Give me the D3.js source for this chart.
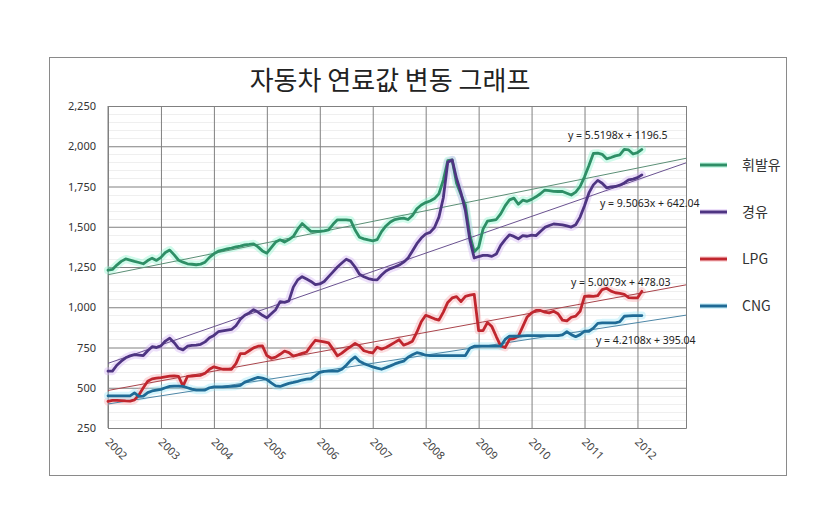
<!DOCTYPE html>
<html><head><meta charset="utf-8">
<script src="https://cdn.jsdelivr.net/npm/d3@7"></script>
<style>body{margin:0;background:#fff}svg{display:block}</style>
</head><body><svg id="c" width="840" height="525"></svg>
<script>
const title = "자동차 연료값 변동 그래프";
const yearLabels = ["2002","2003","2004","2005","2006","2007","2008","2009","2010","2011","2012"];
const yTicks = [250,500,750,1000,1250,1500,1750,2000,2250];
const seriesNames = ["휘발유","경유","LPG","CNG"];
const gasoline = [1230,1235,1262,1285,1300,1293,1285,1278,1270,1290,1305,1291,1310,1340,1355,1325,1292,1280,1270,1267,1264,1268,1280,1310,1332,1348,1355,1362,1368,1375,1380,1388,1390,1394,1375,1350,1336,1370,1405,1419,1405,1420,1440,1485,1520,1495,1471,1471,1471,1475,1481,1515,1543,1543,1543,1540,1480,1435,1425,1418,1412,1420,1470,1505,1530,1545,1550,1554,1545,1570,1612,1635,1650,1660,1675,1705,1790,1910,1915,1770,1700,1635,1450,1345,1372,1485,1535,1540,1545,1580,1630,1667,1678,1640,1665,1658,1670,1686,1705,1728,1725,1720,1719,1719,1708,1697,1715,1750,1810,1880,1955,1957,1950,1922,1930,1940,1946,1980,1977,1952,1960,1980];
const diesel = [603,603,640,665,686,698,706,703,700,730,755,750,760,790,808,780,745,735,758,763,765,770,785,810,825,848,853,858,862,885,925,950,965,985,970,950,934,960,985,1035,1030,1040,1125,1170,1190,1175,1160,1140,1145,1160,1190,1220,1250,1275,1298,1285,1250,1205,1190,1178,1172,1170,1200,1225,1240,1250,1262,1280,1305,1350,1395,1430,1455,1465,1495,1560,1680,1900,1915,1800,1710,1600,1420,1306,1315,1322,1322,1316,1330,1385,1420,1450,1440,1425,1445,1441,1448,1445,1470,1496,1508,1517,1515,1512,1505,1498,1512,1560,1630,1710,1760,1788,1770,1742,1748,1750,1758,1772,1791,1796,1805,1822];
const lpg = [415,422,422,420,418,417,425,455,500,540,555,560,563,568,572,574,570,510,570,573,575,577,590,615,630,622,615,615,615,650,712,712,730,748,758,760,700,683,690,708,728,718,697,705,714,722,760,795,790,785,779,740,698,715,737,755,775,760,730,722,716,752,740,750,766,782,798,765,775,789,845,910,950,940,928,920,970,1030,1058,1066,1035,1068,1075,1080,855,855,905,880,818,760,750,800,805,820,880,940,965,980,980,970,965,975,960,920,915,938,945,975,1068,1070,1068,1072,1110,1118,1100,1090,1086,1080,1060,1058,1058,1099];
const cng = [450,450,450,450,450,450,468,446,448,470,480,485,490,500,508,510,510,508,500,492,485,485,486,500,506,506,506,507,508,510,515,535,545,555,565,560,551,530,512,508,518,527,533,540,548,553,556,575,595,602,603,603,603,615,640,670,692,665,650,640,630,622,615,625,636,648,658,665,690,705,718,712,702,700,700,700,700,700,700,700,700,700,745,758,758,758,758,758,758,758,800,820,820,820,822,824,824,824,824,824,824,824,824,828,848,830,817,830,851,851,870,900,903,903,903,903,910,944,946,948,948,948];
const trendSlopes = [5.5198, 9.5063, 5.0079, 4.2108];
const trendIntercepts = [1196.5, 642.04, 478.03, 395.04];
const trendLabels = ["y = 5.5198x + 1196.5","y = 9.5063x + 642.04","y = 5.0079x + 478.03","y = 4.2108x + 395.04"];
const categoryCount = 132;

const allSeries = [gasoline, diesel, lpg, cng];
const colors = ["#2e8f66","#4e3482","#c0262e","#1f6b96"];
const glowColors = ["#8af5cc","#d2b2f2","#f7aab0","#9ae6f7"];
const trendColors = ["#5b8f76","#6a5290","#a9444b","#4d86a6"];
const labelPos = [[568,139],[600,207],[571,286],[596,344]];

const svg = d3.select("#c");
const M = {l:108, r:686, t:106, b:428};
const x = d3.scaleLinear().domain([1, categoryCount]).range([M.l, M.r]);
const y = d3.scaleLinear().domain([250, 2250]).range([M.b, M.t]);

svg.append("rect").attr("x",49.5).attr("y",57.5).attr("width",737).attr("height",418)
  .attr("fill","#fff").attr("stroke","#8a8a8a").attr("stroke-width",1);

svg.append("text").attr("x",390).attr("y",90).attr("text-anchor","middle")
  .attr("font-family","'Noto Sans CJK KR','Noto Sans',sans-serif").attr("font-size",26)
  .attr("fill","#222").text(title);

// minor grid
const minor = d3.range(300, 2250, 50).filter(v => v % 250 !== 0);
svg.append("g").selectAll("line").data(minor).join("line")
  .attr("x1",M.l).attr("x2",M.r).attr("y1",d=>Math.round(y(d))+0.5).attr("y2",d=>Math.round(y(d))+0.5)
  .attr("stroke","#efefef").attr("stroke-width",1);

// y axis with major gridlines
const yAxis = svg.append("g").attr("transform",`translate(${M.l},0)`)
  .call(d3.axisLeft(y).tickValues(yTicks).tickSize(-(M.r-M.l)).tickPadding(12).tickFormat(d3.format(",")));
yAxis.select(".domain").remove();
yAxis.selectAll(".tick line").attr("stroke","#808080");
yAxis.selectAll("text").attr("font-family","'Noto Sans',sans-serif").attr("font-size",11).attr("fill","#333");

// x axis with vertical gridlines
const xTickVals = yearLabels.map((d,i)=>1+i*12);
const xAxis = svg.append("g").attr("transform",`translate(0,${M.b})`)
  .call(d3.axisBottom(x).tickValues(xTickVals).tickSize(-(M.b-M.t)).tickFormat((d,i)=>yearLabels[i]));
xAxis.select(".domain").attr("stroke","#808080");
xAxis.selectAll(".tick line").attr("stroke","#808080");
xAxis.selectAll("text").attr("font-family","'Noto Sans',sans-serif").attr("font-size",11).attr("fill","#444")
  .attr("text-anchor","start").attr("y",0).attr("dy","0.35em").attr("transform","translate(-1,12) rotate(45)");
svg.append("line").attr("x1",M.l).attr("x2",M.l).attr("y1",M.t).attr("y2",M.b).attr("stroke","#808080");

const line = d3.line().x((d,i)=>x(i+1)).y(d=>y(d));

// glows
allSeries.forEach((s,k)=>{
  svg.append("path").datum(s).attr("d",line).attr("fill","none")
    .attr("stroke",glowColors[k]).attr("stroke-width",8).attr("stroke-opacity",0.4)
    .attr("stroke-linejoin","round").attr("stroke-linecap","round");
});
// trend lines
allSeries.forEach((s,k)=>{
  const pts = [1, categoryCount].map(i=>[i, trendSlopes[k]*i + trendIntercepts[k]]);
  svg.append("line").attr("x1",x(pts[0][0])).attr("y1",y(pts[0][1]))
    .attr("x2",x(pts[1][0])).attr("y2",y(pts[1][1]))
    .attr("stroke",trendColors[k]).attr("stroke-width",1);
});
// data lines
allSeries.forEach((s,k)=>{
  svg.append("path").datum(s).attr("d",line).attr("fill","none")
    .attr("stroke",colors[k]).attr("stroke-width",2.8)
    .attr("stroke-linejoin","round").attr("stroke-linecap","round");
});
// equation labels
trendLabels.forEach((t,k)=>{
  svg.append("text").attr("x",labelPos[k][0]).attr("y",labelPos[k][1])
    .attr("font-family","'Noto Sans',sans-serif").attr("font-size",10.5).attr("fill","#222").text(t);
});
// legend
seriesNames.forEach((n,k)=>{
  const ly = 165 + k*47;
  svg.append("line").attr("x1",700).attr("x2",727).attr("y1",ly).attr("y2",ly)
    .attr("stroke",glowColors[k]).attr("stroke-width",6).attr("stroke-opacity",0.4);
  svg.append("line").attr("x1",700).attr("x2",727).attr("y1",ly).attr("y2",ly)
    .attr("stroke",colors[k]).attr("stroke-width",3);
  svg.append("text").attr("x",742).attr("y",ly+5)
    .attr("font-family","'Noto Sans CJK KR','Noto Sans',sans-serif").attr("font-size",14).attr("fill","#333").text(n);
});
</script></body></html>
